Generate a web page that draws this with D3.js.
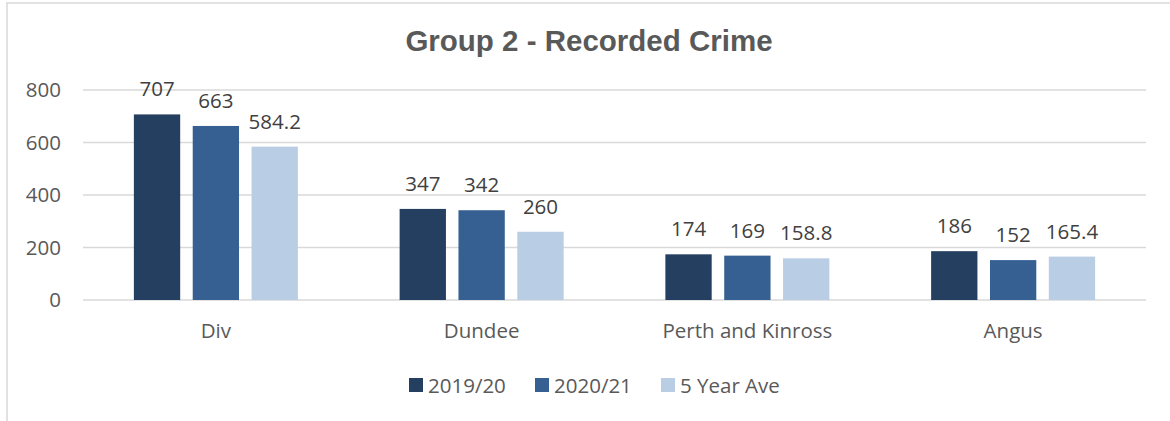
<!DOCTYPE html>
<html><head><meta charset="utf-8">
<script src="https://cdn.jsdelivr.net/npm/d3@7"></script>
<style>html,body{margin:0;padding:0;background:#fff;overflow:hidden}</style>
</head><body>
<svg id="chart" width="1170" height="421"></svg>
<script>
const categories = ["Div", "Dundee", "Perth and Kinross", "Angus"];
const seriesNames = ["2019/20", "2020/21", "5 Year Ave"];
const values2019 = [707, 347, 174, 186];
const values2020 = [663, 342, 169, 152];
const values5yr = [584.2, 260, 158.8, 165.4];
const yTicks = [0, 200, 400, 600, 800];
const colors = ["#243F60", "#366092", "#B9CDE5"];

const seriesValues = [values2019, values2020, values5yr];
const svg = d3.select("#chart");
const font = "'Open Sans', 'Noto Sans', sans-serif";
const fs = 20.5;

// border
svg.append("rect").attr("x", 7).attr("y", 3).attr("width", 1300).attr("height", 600)
  .attr("fill", "none").attr("stroke", "#d9d9d9").attr("stroke-width", 1.5);

const y = d3.scaleLinear().domain([0, 800]).range([300, 90]);
const x0 = d3.scaleBand().domain(categories).range([83, 1146]).padding(0);
const groupW = 164;
const x1 = d3.scaleBand().domain(seriesNames)
  .range([(x0.bandwidth() - groupW) / 2, (x0.bandwidth() + groupW) / 2]).paddingInner(0.213).paddingOuter(0);

// title
svg.append("text").attr("x", 589).attr("y", 51).attr("text-anchor", "middle")
  .attr("font-family", "'Liberation Sans', Arial, sans-serif").attr("font-weight", "bold")
  .attr("font-size", 29.5).attr("fill", "#595959").text("Group 2 - Recorded Crime");

// gridlines
svg.append("g").selectAll("line").data(yTicks).join("line")
  .attr("x1", 83).attr("x2", 1146).attr("y1", d => y(d)).attr("y2", d => y(d))
  .attr("stroke", "#d9d9d9").attr("stroke-width", 1.3);

// y labels
svg.append("g").selectAll("text").data(yTicks).join("text")
  .attr("x", 61).attr("y", d => y(d) + 7).attr("text-anchor", "end")
  .attr("font-family", font).attr("font-size", fs).attr("fill", "#595959").text(d => d);

// bars
const groups = svg.append("g").selectAll("g").data(categories).join("g")
  .attr("transform", c => `translate(${x0(c)},0)`);
groups.each(function(c, ci) {
  const g = d3.select(this);
  seriesNames.forEach((s, si) => {
    const v = seriesValues[si][ci];
    g.append("rect").attr("x", x1(s)).attr("y", y(v)).attr("width", x1.bandwidth())
      .attr("height", y(0) - y(v)).attr("fill", colors[si]);
    g.append("text").attr("x", x1(s) + x1.bandwidth() / 2).attr("y", y(v) - 18)
      .attr("text-anchor", "middle").attr("font-family", font).attr("font-size", fs)
      .attr("fill", "#404040").text(v);
  });
  g.append("text").attr("x", x0.bandwidth() / 2).attr("y", 338).attr("text-anchor", "middle")
    .attr("font-family", font).attr("font-size", fs).attr("fill", "#595959").text(c);
});

// legend
const legendX = [409, 535, 661];
const lg = svg.append("g").selectAll("g").data(seriesNames).join("g")
  .attr("transform", (d, i) => `translate(${legendX[i]},378)`);
lg.append("rect").attr("width", 14).attr("height", 14).attr("fill", (d, i) => colors[i]);
lg.append("text").attr("x", 19).attr("y", 14.5).attr("font-family", font).attr("font-size", fs)
  .attr("fill", "#595959").text(d => d);
</script>
</body></html>
